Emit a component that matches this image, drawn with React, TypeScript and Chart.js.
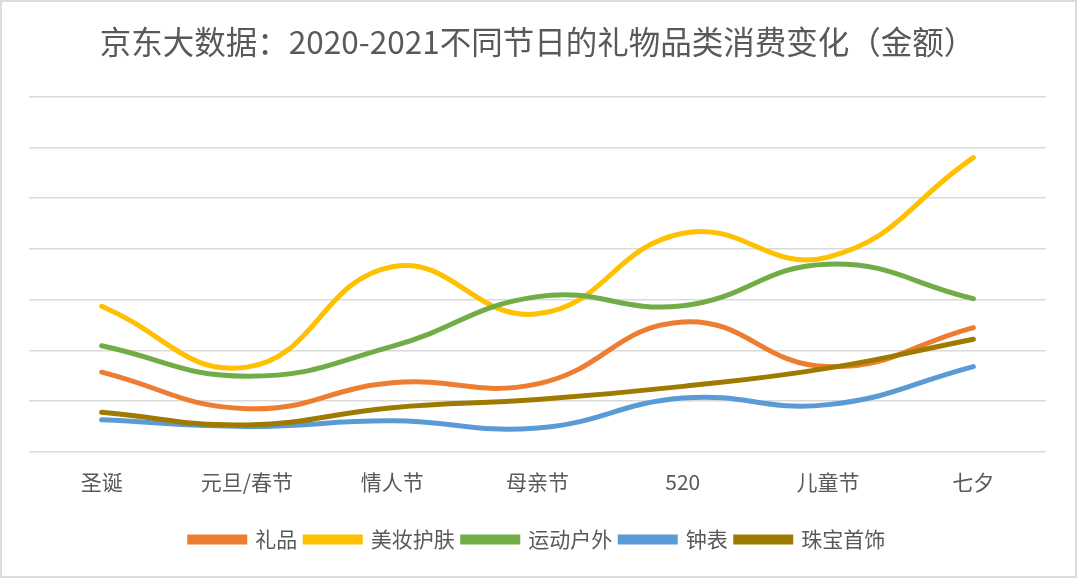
import React, { useEffect, useRef } from "react";
import { Chart, registerables } from "chart.js";

Chart.register(...registerables);

const TITLE = "京东大数据：2020-2021不同节日的礼物品类消费变化（金额）";
const categories = ["圣诞", "元旦/春节", "情人节", "母亲节", "520", "儿童节", "七夕"];
const seriesNames = ["礼品", "美妆护肤", "运动户外", "钟表", "珠宝首饰"];
const giftValues = [1.57, 0.85, 1.36, 1.34, 2.56, 1.68, 2.45];
const beautyValues = [2.87, 1.67, 3.65, 2.72, 4.31, 3.84, 5.8];
const sportsValues = [2.09, 1.49, 2.08, 3.06, 2.88, 3.7, 3.02];
const watchValues = [0.63, 0.5, 0.61, 0.47, 1.06, 0.93, 1.68];
const jewelryValues = [0.78, 0.53, 0.87, 1.03, 1.29, 1.65, 2.22];
const colors = ["#ED7D31", "#FFC000", "#70AD47", "#5B9BD5", "#9E7A00"];

const FONT = "'Noto Sans CJK SC', 'Noto Sans', sans-serif";
const TEXT = "#595959";

export default function App() {
  const ref = useRef<HTMLCanvasElement | null>(null);

  useEffect(() => {
    document.body.style.margin = "0";
    const values = [giftValues, beautyValues, sportsValues, watchValues, jewelryValues];
    const chart = new Chart(ref.current as HTMLCanvasElement, {
      type: "line",
      data: {
        labels: categories,
        datasets: seriesNames.map((name, i) => ({
          label: name,
          data: values[i],
          borderColor: colors[i],
          backgroundColor: colors[i],
          borderWidth: 5,
          borderCapStyle: "round" as const,
          pointRadius: 0,
          pointHoverRadius: 0,
          tension: 0.45,
          fill: false,
          order: seriesNames.length - i,
        })),
      },
      options: {
        animation: false,
        responsive: false,
        maintainAspectRatio: false,
        events: [],
        layout: { padding: { left: 29, right: 34, top: 0, bottom: 21 } },
        plugins: {
          title: {
            display: true,
            text: TITLE,
            color: TEXT,
            font: { family: FONT, size: 31.5, weight: "normal" },
            padding: { top: 23, bottom: 36 },
          },
          legend: {
            position: "bottom",
            labels: {
              color: TEXT,
              font: { family: FONT, size: 21 },
              boxWidth: 55,
              boxHeight: 5,
              padding: 8,
              sort: (a: any, b: any) => a.datasetIndex - b.datasetIndex,
            },
          },
          tooltip: { enabled: false },
        },
        scales: {
          x: {
            offset: true,
            grid: { display: false },
            border: { display: false },
            ticks: { color: TEXT, font: { family: FONT, size: 21 }, padding: 10, maxRotation: 0 },
            title: {
              display: true,
              text: " ",
              font: { size: 16, lineHeight: 1 },
              padding: 0,
            },
          },
          y: {
            min: 0,
            max: 7,
            ticks: { display: false, stepSize: 1 },
            grid: { color: "#d9d9d9", lineWidth: 1.5, drawTicks: false },
            border: { display: false },
          },
        },
      },
    });
    return () => chart.destroy();
  }, []);

  return (
    <div style={{ position: "fixed", left: 0, top: 0, width: 1080, height: 581, background: "#fff" }}>
      <canvas ref={ref} width={1080} height={581} style={{ position: "absolute", left: 0, top: 0, width: 1080, height: 581 }} />
      <div
        style={{
          position: "absolute",
          left: 0,
          top: 0,
          width: 1077,
          height: 578,
          border: "2px solid #dcdcdc",
          boxSizing: "border-box",
          pointerEvents: "none",
        }}
      />
    </div>
  );
}
